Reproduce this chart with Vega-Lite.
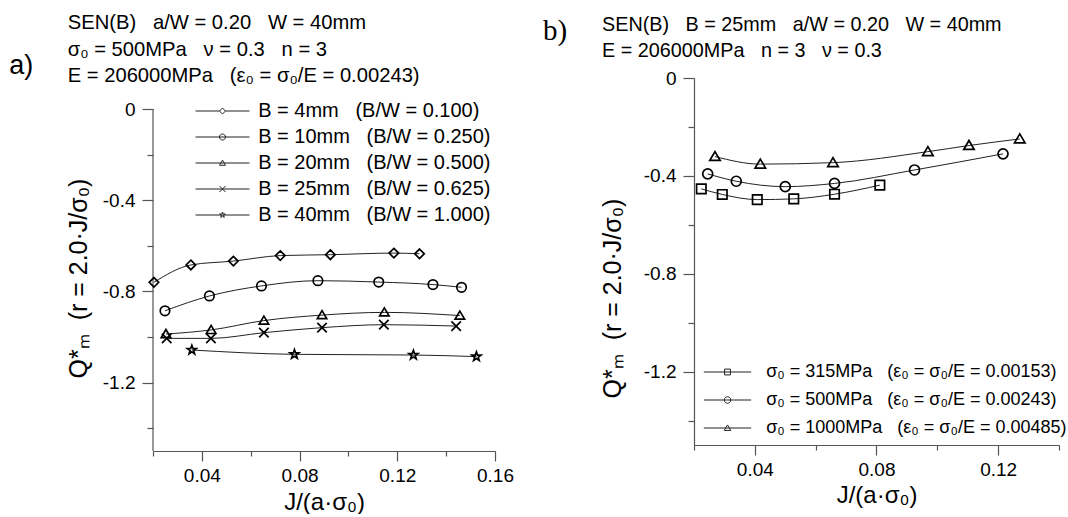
{
  "$schema": "https://vega.github.io/schema/vega-lite/v6.json",
  "background": "white",
  "padding": {"left": 9, "top": 13, "right": 5, "bottom": 0},
  "spacing": 28,
  "align": "none",
  "bounds": "full",
  "config": {
    "view": {"stroke": null},
    "font": "Liberation Sans",
    "axis": {"grid": false, "domainColor": "#555", "tickColor": "#555", "domainWidth": 1.2, "tickWidth": 1.2, "labelFont": "Liberation Sans", "labelFontSize": 19, "labelColor": "black", "titleFont": "Liberation Sans", "titleFontSize": 24, "titleFontWeight": "normal", "titleColor": "black"},
    "legend": {"labelFont": "Liberation Sans", "labelColor": "black", "padding": 0},
    "title": {"font": "Liberation Sans", "fontWeight": "normal", "color": "black"}
  },
  "datasets": {
    "a": [
      {"series": "B = 4mm\u00a0\u00a0\u00a0(B/W = 0.100)", "x": 0.0204, "y": -0.760},
      {"series": "B = 4mm\u00a0\u00a0\u00a0(B/W = 0.100)", "x": 0.0355, "y": -0.684},
      {"series": "B = 4mm\u00a0\u00a0\u00a0(B/W = 0.100)", "x": 0.0529, "y": -0.667},
      {"series": "B = 4mm\u00a0\u00a0\u00a0(B/W = 0.100)", "x": 0.0721, "y": -0.643},
      {"series": "B = 4mm\u00a0\u00a0\u00a0(B/W = 0.100)", "x": 0.0926, "y": -0.639},
      {"series": "B = 4mm\u00a0\u00a0\u00a0(B/W = 0.100)", "x": 0.1186, "y": -0.632},
      {"series": "B = 4mm\u00a0\u00a0\u00a0(B/W = 0.100)", "x": 0.1291, "y": -0.635},
      {"series": "B = 10mm\u00a0\u00a0\u00a0(B/W = 0.250)", "x": 0.0249, "y": -0.885},
      {"series": "B = 10mm\u00a0\u00a0\u00a0(B/W = 0.250)", "x": 0.0431, "y": -0.820},
      {"series": "B = 10mm\u00a0\u00a0\u00a0(B/W = 0.250)", "x": 0.0644, "y": -0.776},
      {"series": "B = 10mm\u00a0\u00a0\u00a0(B/W = 0.250)", "x": 0.0875, "y": -0.753},
      {"series": "B = 10mm\u00a0\u00a0\u00a0(B/W = 0.250)", "x": 0.1124, "y": -0.759},
      {"series": "B = 10mm\u00a0\u00a0\u00a0(B/W = 0.250)", "x": 0.1346, "y": -0.770},
      {"series": "B = 10mm\u00a0\u00a0\u00a0(B/W = 0.250)", "x": 0.1463, "y": -0.782},
      {"series": "B = 20mm\u00a0\u00a0\u00a0(B/W = 0.500)", "x": 0.0253, "y": -0.987},
      {"series": "B = 20mm\u00a0\u00a0\u00a0(B/W = 0.500)", "x": 0.0438, "y": -0.969},
      {"series": "B = 20mm\u00a0\u00a0\u00a0(B/W = 0.500)", "x": 0.0654, "y": -0.928},
      {"series": "B = 20mm\u00a0\u00a0\u00a0(B/W = 0.500)", "x": 0.0892, "y": -0.904},
      {"series": "B = 20mm\u00a0\u00a0\u00a0(B/W = 0.500)", "x": 0.1147, "y": -0.892},
      {"series": "B = 20mm\u00a0\u00a0\u00a0(B/W = 0.500)", "x": 0.1456, "y": -0.906},
      {"series": "B = 25mm\u00a0\u00a0\u00a0(B/W = 0.625)", "x": 0.0256, "y": -1.006},
      {"series": "B = 25mm\u00a0\u00a0\u00a0(B/W = 0.625)", "x": 0.0437, "y": -1.006},
      {"series": "B = 25mm\u00a0\u00a0\u00a0(B/W = 0.625)", "x": 0.0654, "y": -0.981},
      {"series": "B = 25mm\u00a0\u00a0\u00a0(B/W = 0.625)", "x": 0.0892, "y": -0.959},
      {"series": "B = 25mm\u00a0\u00a0\u00a0(B/W = 0.625)", "x": 0.1145, "y": -0.946},
      {"series": "B = 25mm\u00a0\u00a0\u00a0(B/W = 0.625)", "x": 0.1441, "y": -0.952},
      {"series": "B = 40mm\u00a0\u00a0\u00a0(B/W = 1.000)", "x": 0.0359, "y": -1.057},
      {"series": "B = 40mm\u00a0\u00a0\u00a0(B/W = 1.000)", "x": 0.0779, "y": -1.076},
      {"series": "B = 40mm\u00a0\u00a0\u00a0(B/W = 1.000)", "x": 0.1266, "y": -1.079},
      {"series": "B = 40mm\u00a0\u00a0\u00a0(B/W = 1.000)", "x": 0.1524, "y": -1.086}
    ],
    "b": [
      {"series": "σ₀ = 315MPa\u00a0\u00a0\u00a0(ε₀ = σ₀/E = 0.00153)", "x": 0.0224, "y": -0.453},
      {"series": "σ₀ = 315MPa\u00a0\u00a0\u00a0(ε₀ = σ₀/E = 0.00153)", "x": 0.0293, "y": -0.476},
      {"series": "σ₀ = 315MPa\u00a0\u00a0\u00a0(ε₀ = σ₀/E = 0.00153)", "x": 0.0408, "y": -0.497},
      {"series": "σ₀ = 315MPa\u00a0\u00a0\u00a0(ε₀ = σ₀/E = 0.00153)", "x": 0.0528, "y": -0.494},
      {"series": "σ₀ = 315MPa\u00a0\u00a0\u00a0(ε₀ = σ₀/E = 0.00153)", "x": 0.0662, "y": -0.475},
      {"series": "σ₀ = 315MPa\u00a0\u00a0\u00a0(ε₀ = σ₀/E = 0.00153)", "x": 0.0811, "y": -0.438},
      {"series": "σ₀ = 500MPa\u00a0\u00a0\u00a0(ε₀ = σ₀/E = 0.00243)", "x": 0.0245, "y": -0.392},
      {"series": "σ₀ = 500MPa\u00a0\u00a0\u00a0(ε₀ = σ₀/E = 0.00243)", "x": 0.0339, "y": -0.422},
      {"series": "σ₀ = 500MPa\u00a0\u00a0\u00a0(ε₀ = σ₀/E = 0.00243)", "x": 0.0500, "y": -0.444},
      {"series": "σ₀ = 500MPa\u00a0\u00a0\u00a0(ε₀ = σ₀/E = 0.00243)", "x": 0.0662, "y": -0.431},
      {"series": "σ₀ = 500MPa\u00a0\u00a0\u00a0(ε₀ = σ₀/E = 0.00243)", "x": 0.0925, "y": -0.376},
      {"series": "σ₀ = 500MPa\u00a0\u00a0\u00a0(ε₀ = σ₀/E = 0.00243)", "x": 0.1216, "y": -0.310},
      {"series": "σ₀ = 1000MPa\u00a0\u00a0\u00a0(ε₀ = σ₀/E = 0.00485)", "x": 0.0269, "y": -0.321},
      {"series": "σ₀ = 1000MPa\u00a0\u00a0\u00a0(ε₀ = σ₀/E = 0.00485)", "x": 0.0418, "y": -0.352},
      {"series": "σ₀ = 1000MPa\u00a0\u00a0\u00a0(ε₀ = σ₀/E = 0.00485)", "x": 0.0657, "y": -0.346},
      {"series": "σ₀ = 1000MPa\u00a0\u00a0\u00a0(ε₀ = σ₀/E = 0.00485)", "x": 0.0969, "y": -0.301},
      {"series": "σ₀ = 1000MPa\u00a0\u00a0\u00a0(ε₀ = σ₀/E = 0.00485)", "x": 0.1104, "y": -0.276},
      {"series": "σ₀ = 1000MPa\u00a0\u00a0\u00a0(ε₀ = σ₀/E = 0.00485)", "x": 0.1271, "y": -0.249}
    ]
  },
  "hconcat": [
    {
      "title": {"text": "a)", "orient": "left", "angle": 0, "anchor": "end", "frame": "bounds", "align": "right", "baseline": "top", "dy": 40, "offset": 9, "fontSize": 27, "font": "Liberation Sans"},
      "hconcat": [
        {
          "width": 342,
          "height": 373,
          "title": {"text": ["SEN(B)\u00a0\u00a0\u00a0a/W = 0.20\u00a0\u00a0\u00a0W = 40mm", "σ₀ = 500MPa\u00a0\u00a0\u00a0ν = 0.3\u00a0\u00a0\u00a0n = 3", "E = 206000MPa\u00a0\u00a0\u00a0(ε₀ = σ₀/E = 0.00243)"], "anchor": "start", "frame": "group", "dx": -85.3, "fontSize": 20.2, "lineHeight": 26.5, "offset": -8.5},
          "data": {"name": "a"},
          "layer": [
            {"mark": {"type": "line", "interpolate": "monotone", "color": "#222", "strokeWidth": 1},
             "encoding": {
               "x": {"field": "x", "type": "quantitative", "scale": {"domain": [0.02, 0.16], "nice": false, "zero": false},
                 "axis": {"title": "J/(a·σ₀)", "values": [0.02, 0.04, 0.06, 0.08, 0.1, 0.12, 0.14, 0.16], "labelExpr": "round(datum.value*100) % 4 == 0 ? '' + datum.value : ''", "tickSize": {"condition": {"test": "round(datum.value*100) % 4 == 0", "value": 10}, "value": 5}, "labelPadding": 5, "titlePadding": 5, "labelFlush": false}},
               "y": {"field": "y", "type": "quantitative", "scale": {"domain": [-1.5, 0.136], "nice": false, "zero": false},
                 "axis": {"title": "Q*ₘ\u00a0\u00a0(r = 2.0·J/σ₀)", "titleFontSize": 25, "domain": false, "values": [0, -0.2, -0.4, -0.6, -0.8, -1, -1.2, -1.4], "labelExpr": "round(datum.value*10) % 4 == 0 ? '' + datum.value : ''", "tickSize": {"condition": {"test": "round(datum.value*10) % 4 == 0", "value": 11}, "value": 6}, "labelPadding": 7, "titlePadding": 11, "titleY": 200}},
               "detail": {"field": "series", "type": "nominal"}}},
            {"data": {"values": [{}]},
             "mark": {"type": "rule", "color": "#555", "strokeWidth": 1.2},
             "encoding": {"x": {"datum": 0.02, "type": "quantitative"}, "y": {"datum": 0, "type": "quantitative"}, "y2": {"datum": -1.5}}},
            {"mark": {"type": "point", "filled": false, "color": "black", "strokeWidth": 1.7, "size": 90, "opacity": 1},
             "encoding": {
               "x": {"field": "x", "type": "quantitative"},
               "y": {"field": "y", "type": "quantitative"},
               "shape": {"field": "series", "type": "nominal", "legend": null,
               "scale": {"domain": ["B = 4mm\u00a0\u00a0\u00a0(B/W = 0.100)", "B = 10mm\u00a0\u00a0\u00a0(B/W = 0.250)", "B = 20mm\u00a0\u00a0\u00a0(B/W = 0.500)", "B = 25mm\u00a0\u00a0\u00a0(B/W = 0.625)", "B = 40mm\u00a0\u00a0\u00a0(B/W = 1.000)"],
                 "range": ["M0,-1L1,0L0,1L-1,0Z", "M1,0A1,1,0,1,1,-1,0A1,1,0,1,1,1,0Z", "M0,-0.95L1,0.75L-1,0.75Z", "M-1,-1L1,1M-1,1L1,-1", "M0,-1L0.235,-0.324L0.951,-0.309L0.38,0.124L0.588,0.809L0,0.4L-0.588,0.809L-0.38,0.124L-0.951,-0.309L-0.235,-0.324Z"]}}}},
            {"mark": {"type": "point", "filled": false, "color": "black", "strokeWidth": 1, "size": 36, "opacity": 0},
             "encoding": {
               "x": {"field": "x", "type": "quantitative"},
               "y": {"field": "y", "type": "quantitative"},
               "shape": {"field": "series", "type": "nominal",
               "scale": {"domain": ["B = 4mm\u00a0\u00a0\u00a0(B/W = 0.100)", "B = 10mm\u00a0\u00a0\u00a0(B/W = 0.250)", "B = 20mm\u00a0\u00a0\u00a0(B/W = 0.500)", "B = 25mm\u00a0\u00a0\u00a0(B/W = 0.625)", "B = 40mm\u00a0\u00a0\u00a0(B/W = 1.000)"],
                 "range": ["M-9,0L-1,0M1,0L9,0M0,-1L1,0L0,1L-1,0Z", "M-9,0L9,0M1,0A1,1,0,1,1,-1,0A1,1,0,1,1,1,0Z", "M-9,0L9,0M0,-0.95L1,0.75L-1,0.75Z", "M-9,0L9,0M-1,-1L1,1M-1,1L1,-1", "M-9,0L9,0M0,-1L0.235,-0.324L0.951,-0.309L0.38,0.124L0.588,0.809L0,0.4L-0.588,0.809L-0.38,0.124L-0.951,-0.309L-0.235,-0.324Z"]},
               "legend": {"orient": "none", "legendX": 59.5, "legendY": 23, "title": null, "symbolSize": 36, "symbolOpacity": 1, "symbolStrokeWidth": 1, "symbolStrokeColor": "#222", "symbolFillColor": "transparent", "labelFontSize": 20, "labelOffset": 25.7, "labelLimit": 500, "rowPadding": 6}}}}
          ],
          "resolve": {"scale": {"shape": "independent"}, "legend": {"shape": "independent"}}
        }
      ]
    },
    {
      "title": {"text": "b)", "orient": "left", "angle": 0, "anchor": "end", "frame": "bounds", "align": "right", "baseline": "top", "dy": 2, "offset": 9, "fontSize": 29, "font": "Liberation Serif"},
      "hconcat": [
        {
          "width": 365,
          "height": 367,
          "title": {"text": ["SEN(B)\u00a0\u00a0\u00a0B = 25mm\u00a0\u00a0\u00a0a/W = 0.20\u00a0\u00a0\u00a0W = 40mm", "E = 206000MPa\u00a0\u00a0\u00a0n = 3\u00a0\u00a0\u00a0ν = 0.3"], "anchor": "start", "frame": "group", "dx": -92, "fontSize": 19.8, "lineHeight": 26.5, "offset": 8},
          "data": {"name": "b"},
          "encoding": {
            "x": {"field": "x", "type": "quantitative", "scale": {"domain": [0.02, 0.14], "nice": false, "zero": false},
              "axis": {"title": "J/(a·σ₀)", "values": [0.02, 0.04, 0.06, 0.08, 0.1, 0.12, 0.14], "labelExpr": "round(datum.value*100) % 4 == 0 ? '' + datum.value : ''", "tickSize": {"condition": {"test": "round(datum.value*100) % 4 == 0", "value": 10}, "value": 5}, "labelPadding": 5, "titlePadding": 4, "labelFlush": false}},
            "y": {"field": "y", "type": "quantitative", "scale": {"domain": [-1.5, 0], "nice": false, "zero": false},
              "axis": {"title": "Q*ₘ\u00a0\u00a0(r = 2.0·J/σ₀)", "titleFontSize": 25, "values": [0, -0.2, -0.4, -0.6, -0.8, -1, -1.2, -1.4], "labelExpr": "round(datum.value*10) % 4 == 0 ? '' + datum.value : ''", "tickSize": {"condition": {"test": "round(datum.value*10) % 4 == 0", "value": 11}, "value": 6}, "labelPadding": 7, "titlePadding": 18, "titleY": 220}}
          },
          "layer": [
            {"mark": {"type": "line", "interpolate": "monotone", "color": "#222", "strokeWidth": 1},
             "encoding": {"detail": {"field": "series", "type": "nominal"}}},
            {"mark": {"type": "point", "filled": false, "color": "black", "strokeWidth": 1.7, "size": 110, "opacity": 1},
             "encoding": {"shape": {"field": "series", "type": "nominal", "legend": null,
               "scale": {"domain": ["σ₀ = 315MPa\u00a0\u00a0\u00a0(ε₀ = σ₀/E = 0.00153)", "σ₀ = 500MPa\u00a0\u00a0\u00a0(ε₀ = σ₀/E = 0.00243)", "σ₀ = 1000MPa\u00a0\u00a0\u00a0(ε₀ = σ₀/E = 0.00485)"],
                 "range": ["M-0.9,-0.9L0.9,-0.9L0.9,0.9L-0.9,0.9Z", "M0.95,0A0.95,0.95,0,1,1,-0.95,0A0.95,0.95,0,1,1,0.95,0Z", "M0,-0.95L1,0.75L-1,0.75Z"]}}}},
            {"mark": {"type": "point", "filled": false, "color": "black", "strokeWidth": 1, "size": 42, "opacity": 0},
             "encoding": {"shape": {"field": "series", "type": "nominal",
               "scale": {"domain": ["σ₀ = 315MPa\u00a0\u00a0\u00a0(ε₀ = σ₀/E = 0.00153)", "σ₀ = 500MPa\u00a0\u00a0\u00a0(ε₀ = σ₀/E = 0.00243)", "σ₀ = 1000MPa\u00a0\u00a0\u00a0(ε₀ = σ₀/E = 0.00485)"],
                 "range": ["M-7.3,0L7.3,0M-0.9,-0.9L0.9,-0.9L0.9,0.9L-0.9,0.9Z", "M-7.3,0L7.3,0M1,0A1,1,0,1,1,-1,0A1,1,0,1,1,1,0Z", "M-7.3,0L7.3,0M0,-0.95L1,0.75L-1,0.75Z"]},
               "legend": {"orient": "none", "legendX": 24.5, "legendY": 285, "title": null, "symbolSize": 42, "symbolOpacity": 1, "symbolStrokeWidth": 1, "symbolStrokeColor": "#222", "symbolFillColor": "transparent", "labelFontSize": 18, "labelOffset": 29.7, "labelLimit": 500, "rowPadding": 10}}}}
          ],
          "resolve": {"scale": {"shape": "independent"}, "legend": {"shape": "independent"}}
        }
      ]
    }
  ]
}
